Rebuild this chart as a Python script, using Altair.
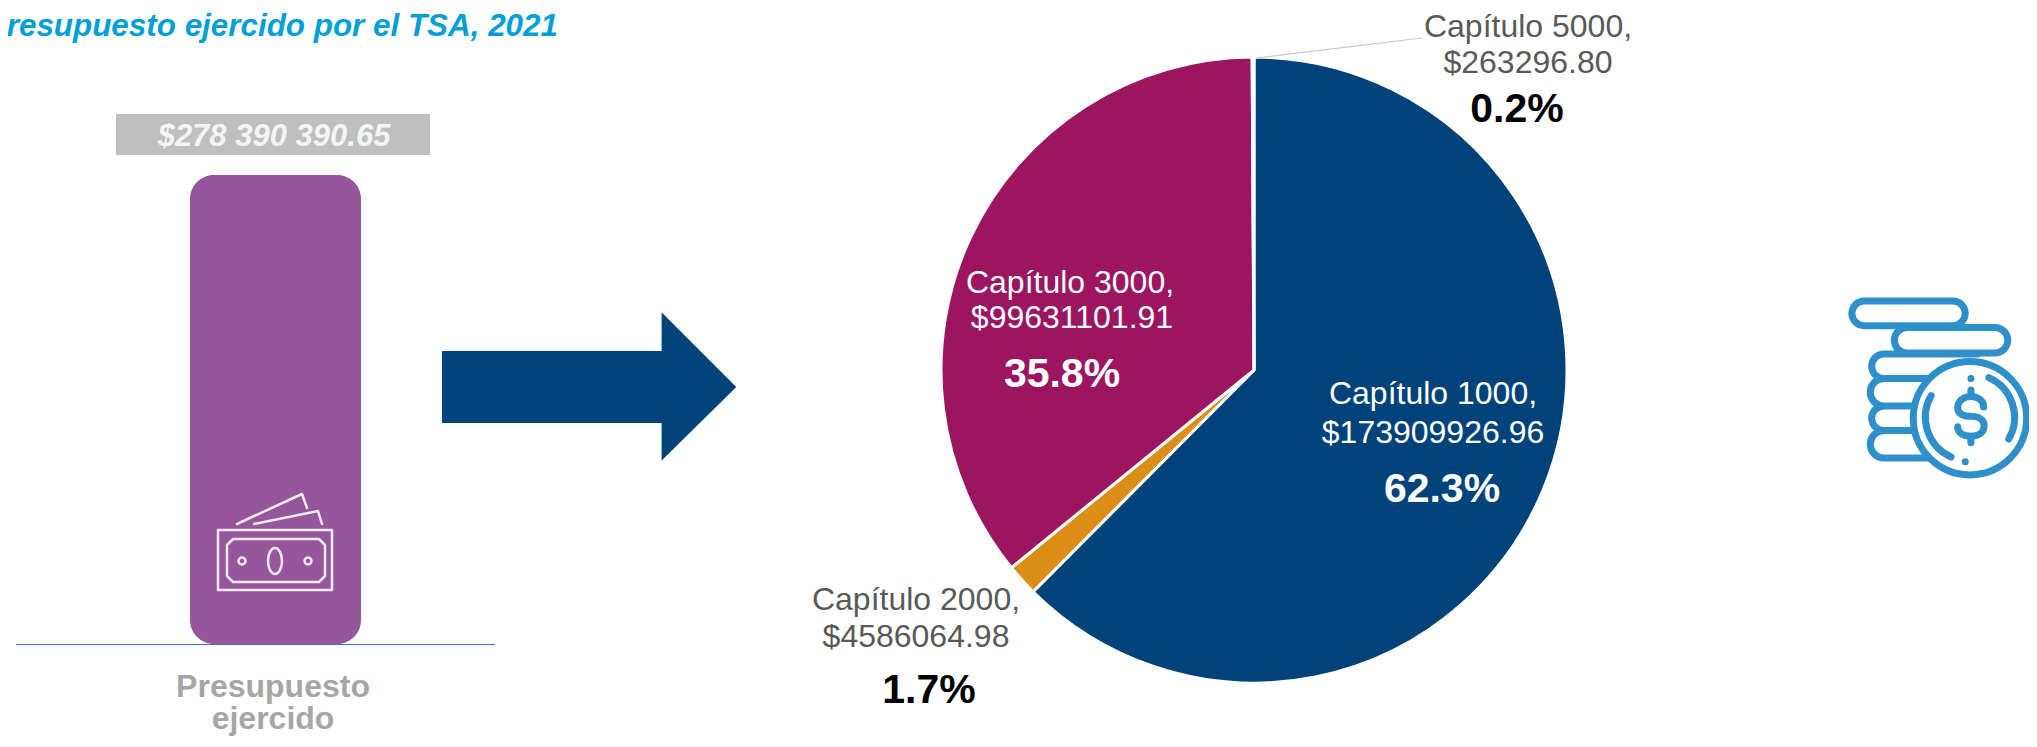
import altair as alt
import pandas as pd

# ---- data ----
capitulos = ["Capítulo 1000", "Capítulo 2000", "Capítulo 3000", "Capítulo 5000"]
ejercido = [173909926.96, 4586064.98, 99631101.91, 263296.80]
porcentajes = ["62.3%", "1.7%", "35.8%", "0.2%"]
presupuesto_total = [278390390.65]
total_label = "$278 390 390.65"
bar_label = ["Presupuesto", "ejercido"]
title_text = "resupuesto ejercido por el TSA, 2021"

NAVY, MAROON, GOLD, PURPLE = "#00437A", "#9C1560", "#DB8F17", "#95569B"
ICON_BLUE = "#2F8FCB"
FONT = "Liberation Sans"
OX, OY = 8, 8  # page margin: reference pixels -> svg pixels

one = alt.Data(values=[{"k": 0}])


def px(x):
    return alt.value(x - OX)


def py(y):
    return alt.value(y - OY)


def txt(s, x, y, size, color, bold=False, italic=False, align="center"):
    return alt.Chart(one).mark_text(
        text=s, font=FONT, fontSize=size, color=color, align=align, baseline="middle",
        fontWeight="bold" if bold else "normal", fontStyle="italic" if italic else "normal",
    ).encode(x=px(x), y=py(y))


def icon(path, stroke, width, fill=None, k=1.0, fx=0.0, fy=0.0):
    # symbol units equal pixels at size 4; paths are written in reference pixels.
    # k scales the drawing about the fixed point (fx, fy).
    kw = dict(fill=fill, filled=True) if fill else dict(filled=False)
    return alt.Chart(one).mark_point(
        shape=path, size=4 * k * k, opacity=1, stroke=stroke, strokeWidth=width,
        strokeCap="round", strokeJoin="round", **kw
    ).encode(x=alt.value(fx * (1 - k) - OX), y=alt.value(fy * (1 - k) - OY))


def pill(x1, x2, y1, y2):
    r = (y2 - y1) / 2
    return (f"M{x1 + r},{y1}H{x2 - r}A{r},{r} 0 0 1 {x2 - r},{y2}"
            f"H{x1 + r}A{r},{r} 0 0 1 {x1 + r},{y1}Z")


def circle(cx, cy, r):
    return f"M{cx - r},{cy}A{r},{r} 0 1 1 {cx + r},{cy}A{r},{r} 0 1 1 {cx - r},{cy}Z"


def ellipse(cx, cy, rx, ry):
    return f"M{cx - rx},{cy}A{rx},{ry} 0 1 1 {cx + rx},{cy}A{rx},{ry} 0 1 1 {cx - rx},{cy}Z"


layers = []

# title
layers.append(txt(title_text, 558, 27, 31.4, "#009FDA", bold=True, italic=True, align="right"))

# total label box
layers.append(alt.Chart(one).mark_rect(color="#BFBFBF").encode(
    x=px(116), x2=px(430), y=py(114), y2=py(155)))
layers.append(txt(total_label, 274, 137, 31, "#F4F4F4", bold=True, italic=True))

# single purple bar
bar_df = pd.DataFrame({"presupuesto": presupuesto_total})
layers.append(alt.Chart(bar_df).mark_bar(color=PURPLE, cornerRadius=24).encode(
    x=px(190), x2=px(361),
    y=alt.Y("presupuesto:Q", axis=None,
            scale=alt.Scale(domain=[0, presupuesto_total[0]], range=[644 - OY, 175 - OY])),
    y2=py(644),
))
layers.append(alt.Chart(one).mark_rule(color="#4472C4", strokeWidth=1).encode(
    x=px(16), x2=px(495), y=py(644.5)))
layers.append(txt(bar_label[0], 273, 687, 32, "#A6A6A6", bold=True))
layers.append(txt(bar_label[1], 273, 719, 32, "#A6A6A6", bold=True))

# banknote icon
bill = ("M218,530H332V590H218Z"
        "M233,539H319L325,545V576L319,582H233L227,576V545Z"
        + ellipse(275, 561, 7, 13) + circle(242, 561, 3.5) + circle(308, 561, 3.5)
        + "M237,524L302,494L307,508M254,524L318,511L322,524")
layers.append(icon(bill, "#F3E9F4", 2.5))

# arrow
layers.append(alt.Chart(one).mark_rect(color=NAVY).encode(
    x=px(442), x2=px(663), y=py(351), y2=py(423)))
layers.append(icon("M662,313L736,387L662,460Z", NAVY, 0.5, fill=NAVY))

# pie
pie_df = pd.DataFrame({"capitulo": capitulos, "ejercido": ejercido,
                       "orden": list(range(len(capitulos)))})
layers.append(alt.Chart(pie_df).mark_arc(radius=313, stroke="white", strokeWidth=3).encode(
    x=px(1254), y=py(370),
    theta=alt.Theta("ejercido:Q", stack=True),
    order=alt.Order("orden:Q"),
    color=alt.Color("capitulo:N", legend=None,
                    scale=alt.Scale(domain=capitulos, range=[NAVY, GOLD, MAROON, "#BFBFBF"])),
))

# leader line of the small slice
layers.append(alt.Chart(one).mark_rule(color="#C8C8C8", strokeWidth=1.2).encode(
    x=px(1257), x2=px(1422), y=py(58), y2=py(38)))

# pie labels
GREY = "#595959"
placement = [
    (1433, 394, 1433, 433, 1442, 490, "white", "white"),
    (916, 600, 916, 637, 929, 691, GREY, "black"),
    (1070, 283, 1072, 318, 1062, 375, "white", "white"),
    (1528, 27, 1528, 63, 1517, 110, GREY, "black"),
]
for name, val, pct, p in zip(capitulos, ejercido, porcentajes, placement):
    layers.append(txt(f"{name},", p[0], p[1], 32, p[6]))
    layers.append(txt(f"${val:.2f}", p[2], p[3], 32, p[6]))
    layers.append(txt(pct, p[4], p[5], 41, p[7], bold=True))

# coins icon (slightly scaled so the coin fits inside the page margin)
K, FX, FY = 0.945, 1849, 388
rows = (pill(1852, 1972, 296, 322) + pill(1897, 2017, 324, 351)
        + "M1985,352H1886A13,13 0 0 0 1886,378H1935"
        + "M1930,378H1886A14,14 0 0 0 1886,407H1925"
        + "M1925,407H1886A13,13 0 0 0 1886,433H1925"
        + "M1925,433H1886A14,14 0 0 0 1886,462H1935")
layers.append(icon(rows, ICON_BLUE, 7, k=K, fx=FX, fy=FY))
layers.append(icon(circle(1977, 420, 60), ICON_BLUE, 7, fill="white", k=K, fx=FX, fy=FY))
details = ("M1997,377A46,46 0 0 1 2018,442"
           "M1936,396A46,46 0 0 0 1957,461"
           "M1978,378v0M1972,466v0"
           "M1991.5,408C1991.5,400 1984,397 1978,397C1970,397 1964,402 1964,409"
           "C1964,416 1971,418 1978,418C1985,418 1992,421 1992,428C1992,435 1986,439 1978,439"
           "C1971,439 1964,436 1964,429"
           "M1978,397V390M1978,439V446")
layers.append(icon(details, ICON_BLUE, 7, k=K, fx=FX, fy=FY))

chart = alt.layer(*layers).properties(
    width=2021, height=731, padding=0, autosize="none", background="white"
).configure_view(stroke=None)

chart.save("out.html", embed_options={"renderer": "svg", "actions": False})
